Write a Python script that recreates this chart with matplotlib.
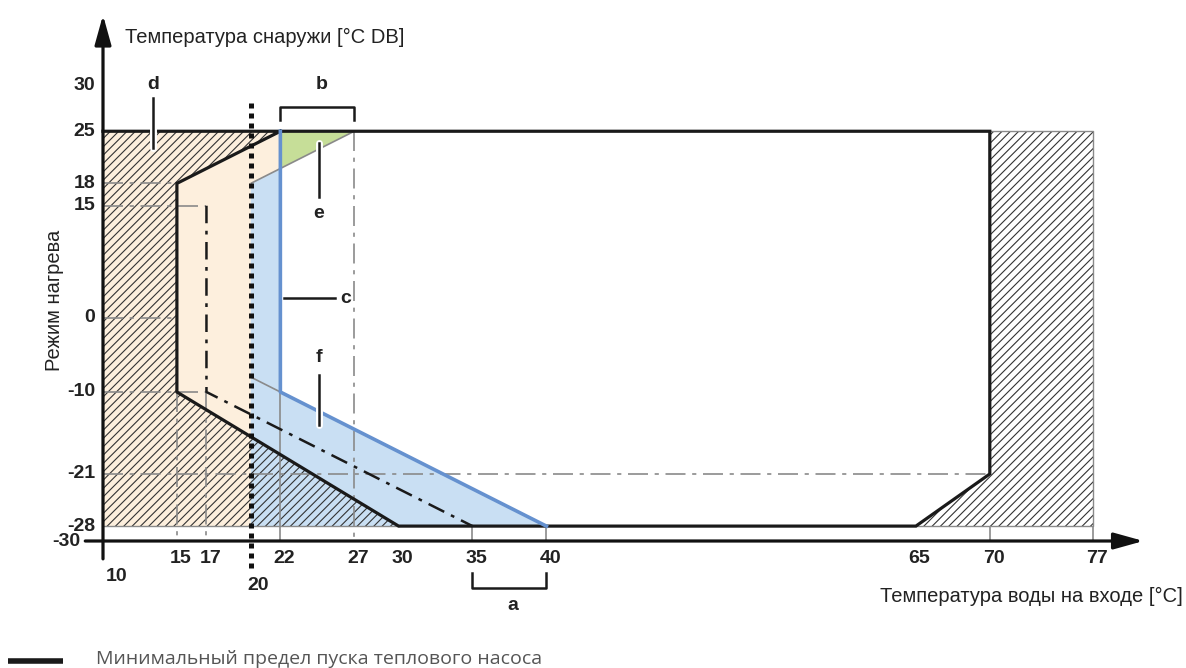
import matplotlib
matplotlib.use("Agg")
import matplotlib.pyplot as plt
import matplotlib.patheffects as pe
from matplotlib.patches import Polygon

plt.rcParams['font.family'] = ['Liberation Sans', 'DejaVu Sans']
plt.rcParams['hatch.linewidth'] = 0.8

# ---------------- data ----------------
x_ticks = [15, 17, 22, 27, 30, 35, 40, 65, 70, 77]
x_tick_labels = ['15', '17', '22', '27', '30', '35', '40', '65', '70', '77']
y_ticks = [30, 25, 18, 15, 0, -10, -21, -28]
y_tick_labels = ['30', '25', '18', '15', '0', '-10', '-21', '-28']

# operating envelope (black thick line) : minimum heat pump start limit
env_x = [22, 15, 15, 30, 65, 70, 70, 10]
env_y = [25, 18, -10, -28, -28, -21, 25, 25]

# blue limit line c
c_x = [22, 22, 40]
c_y = [25, -10, -28]

# dash-dot black line
dd_x = [17, 17, 35]
dd_y = [15, -10, -28]

# areas
beige_x = [10, 22, 22, 20, 20, 10]
beige_y = [25, 25, 20, 18, -28, -28]
blue_x = [20, 22, 22, 40, 20]
blue_y = [18, 20, -10, -28, -28]
green_x = [22, 27, 22]
green_y = [25, 25, 20]
hatch_left_x = [10, 22, 15, 15, 30, 10]
hatch_left_y = [25, 25, 18, -10, -28, -28]
hatch_right_x = [70, 77, 77, 65, 70]
hatch_right_y = [25, 25, -28, -28, -21]

GREY = '#8a8a8a'
BLUE_LINE = '#6591cf'

fig = plt.figure(figsize=(11.86, 6.68), dpi=100)
ax = fig.add_axes([0, 0, 1, 1])
# pixel -> data mapping: x=10 at px 103, 14.78 px/unit ; y=-30 at px 541, 7.45 px/unit
ax.set_xlim(10 - 103 / 14.78, 10 + (1186 - 103) / 14.78)
ax.set_ylim(-30 - (668 - 541) / 7.45, -30 + 541 / 7.45)
ax.axis('off')

# fills
ax.add_patch(Polygon(list(zip(beige_x, beige_y)), closed=True, facecolor='#fdefdd', edgecolor='none', zorder=1))
ax.add_patch(Polygon(list(zip(blue_x, blue_y)), closed=True, facecolor='#c9dff3', edgecolor='none', zorder=1))
ax.add_patch(Polygon(list(zip(green_x, green_y)), closed=True, facecolor='#c6de98', edgecolor='none', zorder=1))
# hatches
for hx, hy in [(hatch_left_x, hatch_left_y), (hatch_right_x, hatch_right_y)]:
    ax.add_patch(Polygon(list(zip(hx, hy)), closed=True, facecolor='none', edgecolor='#333333',
                         hatch='////', linewidth=0, zorder=2))
# hatch borders (grey thin)
ax.plot([10, 30], [-28, -28], color=GREY, lw=1.0, zorder=3)
ax.plot([65, 77, 77, 70], [-28, -28, 25, 25], color=GREY, lw=1.0, zorder=3)

dashdot = (12, 4, 2.5, 4)
def gline(xs, ys, solid=False, lw=1.2):
    ln, = ax.plot(xs, ys, color=GREY, lw=lw, zorder=3, solid_capstyle='butt')
    if not solid:
        ln.set_dashes(dashdot)
    return ln

# grey guide lines
gline([10, 15], [18, 18])
gline([10, 17], [15, 15])
gline([10, 15], [0, 0])
gline([10, 17], [-10, -10])
gline([10, 70], [-21, -21])
gline([15, 15], [-10, -30])
gline([17, 17], [-10, -30])
gline([27, 27], [25, -30])
gline([22, 22], [-10, -30], solid=True)
for t in [35, 40, 70, 77]:
    gline([t, t], [-28, -30], solid=True)
gline([20, 27], [18, 25], solid=True)
gline([20, 22], [-8, -10], solid=True)

# black envelope
ax.plot(env_x, env_y, color='#1a1a1a', lw=2.3, zorder=5, solid_joinstyle='miter')
# black dash-dot
ln, = ax.plot(dd_x, dd_y, color='#1a1a1a', lw=1.8, zorder=5)
ln.set_dashes((7, 3, 1.5, 3))
# blue line
ax.plot(c_x, c_y, color=BLUE_LINE, lw=2.6, zorder=6)

# dotted vertical at 20
ln, = ax.plot([20, 20], [28.8, -33.6], color='#111111', lw=3.6, zorder=7, solid_capstyle='butt')
ln.set_dashes((1, 1))
ln.set_dash_capstyle('butt')

# axes with arrows
ax.annotate('', xy=(10, 40.6), xytext=(10, -32.4),
            arrowprops=dict(arrowstyle='-|>,head_length=0.9,head_width=0.25', lw=2.3, color='#111111',
                            mutation_scale=20, shrinkA=0, shrinkB=0), zorder=8)
ax.annotate('', xy=(80.4, -30), xytext=(8.8, -30),
            arrowprops=dict(arrowstyle='-|>,head_length=0.9,head_width=0.25', lw=2.3, color='#111111',
                            mutation_scale=20, shrinkA=0, shrinkB=0), zorder=8)

# tick labels
num_font = dict(fontsize=14, fontweight='bold', color='#222222')
for v, lab in zip(y_ticks, y_tick_labels):
    yy = v + 1.2 if v == 30 else v
    ax.text(9.46, yy, lab, ha='right', va='center', **num_font)
ax.text(8.44, -30, '-30', ha='right', va='center', **num_font)
for v, lab in zip(x_ticks, x_tick_labels):
    ax.text(v + 0.25, -32.3, lab, ha='center', va='center', **num_font)
ax.text(10.9, -34.8, '10', ha='center', va='center', **num_font)
ax.text(20.5, -36.0, '20', ha='center', va='center', **num_font)

# axis titles
ax.text(11.49, 37.65, 'Температура снаружи [°C DB]', ha='left', va='center', fontsize=14.5, color='#222222')
ax.text(6.75, 2.35, 'Режим нагрева', ha='center', va='center', rotation=90, fontsize=14.5, color='#222222')
ax.text(83.07, -37.4, 'Температура воды на входе [°C]', ha='right', va='center', fontsize=14.5, color='#222222')

# letters
let_font = dict(fontsize=14, fontweight='bold', color='#222222', ha='center', va='center')
ax.text(13.38, 31.3, 'd', **let_font)
ax.text(24.82, 31.3, 'b', **let_font)
ax.text(24.61, 14.0, 'e', **let_font)
ax.text(26.4, 2.6, 'c', **let_font)
ax.text(24.61, -5.4, 'f', **let_font)
ax.text(37.74, -38.6, 'a', **let_font)

# leaders
ax.plot([13.38, 13.38], [29.5, 22.8], color='#1a1a1a', lw=1.8, zorder=9,
        path_effects=[pe.Stroke(linewidth=5, foreground='white', capstyle='round'), pe.Normal()])
ax.plot([24.61, 24.61], [23.4, 16.2], color='#1a1a1a', lw=1.8, zorder=9,
        path_effects=[pe.Stroke(linewidth=5, foreground='white', capstyle='round'), pe.Normal()])
ax.plot([22.25, 25.7], [2.6, 2.6], color='#1a1a1a', lw=1.8, zorder=9)
ax.plot([24.61, 24.61], [-7.7, -14.4], color='#1a1a1a', lw=1.8, zorder=9,
        path_effects=[pe.Stroke(linewidth=5, foreground='white', capstyle='round'), pe.Normal()])

# brackets
ax.plot([22, 22, 27, 27], [26.5, 28.26, 28.26, 26.5], color='#1a1a1a', lw=1.8, zorder=9)
ax.plot([35, 35, 40, 40], [-34.3, -36.3, -36.3, -34.3], color='#1a1a1a', lw=1.8, zorder=9)

# legend
ax.plot([3.57, 7.29], [-46.1, -46.1], color='#1a1a1a', lw=4, solid_capstyle='butt')
ax.text(9.53, -45.8, 'Минимальный предел пуска теплового насоса', ha='left', va='center',
        fontsize=14, color='#555555', family=['Open Sans', 'DejaVu Sans'])

fig.savefig('out.png', dpi=100)
